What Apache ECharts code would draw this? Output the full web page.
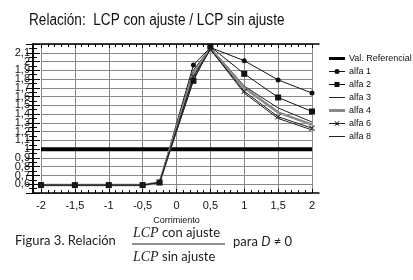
<!DOCTYPE html>
<html>
<head>
<meta charset="utf-8">
<script src="https://cdn.jsdelivr.net/npm/echarts@6/dist/echarts.min.js"></script>
<style>
  html, body { margin: 0; padding: 0; background: #fff; }
  #chart { width: 413px; height: 280px; }
</style>
</head>
<body>
<div id="chart"></div>
<script>
// datos
var xValues = [-2, -1.5, -1, -0.5, -0.25, 0.25, 0.5, 1, 1.5, 2];
var refX = [-2, 2];
var refValues = [1, 1];
var alfa1 = [0.59, 0.59, 0.59, 0.59, 0.62, 1.96, 2.16, 2.01, 1.79, 1.64];
var alfa2 = [0.59, 0.59, 0.59, 0.59, 0.62, 1.78, 2.17, 1.86, 1.59, 1.43];
var alfa3 = [0.59, 0.59, 0.59, 0.59, 0.62, 1.90, 2.16, 1.72, 1.47, 1.31];
var alfa4 = [0.59, 0.59, 0.59, 0.59, 0.62, 1.86, 2.15, 1.70, 1.42, 1.28];
var alfa6 = [0.59, 0.59, 0.59, 0.59, 0.62, 1.83, 2.14, 1.66, 1.37, 1.24];
var alfa8 = [0.59, 0.59, 0.59, 0.59, 0.62, 1.80, 2.14, 1.64, 1.35, 1.22];
var yTicks = [0.5, 0.6, 0.7, 0.8, 0.9, 1, 1.1, 1.2, 1.3, 1.4, 1.5, 1.6, 1.7, 1.8, 1.9, 2, 2.1, 2.2];
var legendNames = ['Val. Referencial', 'alfa 1', 'alfa 2', 'alfa 3', 'alfa 4', 'alfa 6', 'alfa 8'];

var sans = '"Liberation Sans", Arial, sans-serif';
var captionFont = 'Lato, "Open Sans", sans-serif';

// iconos de la leyenda (caja 16x8, los puntos sueltos fijan el tamaño)
var box = 'M0,0L0,0M16,8L16,8';
var thinLine = 'M0,3.5L16,3.5L16,4.5L0,4.5Z';
var thickLine = 'M0,2.5L16,2.5L16,5.5L0,5.5Z';
var legendIcons = {
	'Val. Referencial': 'path://' + box + thickLine,
	'alfa 1': 'path://' + box + thinLine + 'M10.5,4A2.5,2.5,0,1,1,5.5,4A2.5,2.5,0,1,1,10.5,4Z',
	'alfa 2': 'path://' + box + thinLine + 'M5.5,1.5L10.5,1.5L10.5,6.5L5.5,6.5Z',
	'alfa 3': 'path://' + box + thinLine,
	'alfa 4': 'path://' + box + thickLine,
	'alfa 6': 'path://' + box + thinLine + 'M5.5,2.1L6.1,1.5L10.5,5.9L9.9,6.5ZM9.9,1.5L10.5,2.1L6.1,6.5L5.5,5.9Z',
	'alfa 8': 'path://' + box + thinLine
};

function pairs(xs, ys) {
	var out = [];
	for (var i = 0; i < xs.length; i++) out.push([xs[i], ys[i]]);
	return out;
}
function comma(v) {
	return String(+Number(v).toFixed(2)).replace('.', ',');
}

var myChart = echarts.init(document.getElementById('chart'));
var option = {
	animation: false,
	legend: {
		orient: 'vertical',
		left: 329, top: 54, padding: 0,
		itemWidth: 16, itemHeight: 8, itemGap: 4,
		data: legendNames.map(function(n) { return { name: n, icon: legendIcons[n] }; }),
		textStyle: { fontFamily: sans, fontSize: 9, color: '#111', padding: [0, 0, 0, -1] }
	},
	grid: [
		{ left: 41, right: 101, top: 44, bottom: 87 }, // datos
		{ left: 33, right: 94, top: 44, bottom: 87 }   // marco
	],
	xAxis: [{
		type: 'value', gridIndex: 0, min: -2, max: 2, interval: 0.5,
		axisLine: { show: false },
		axisTick: { show: true, inside: true, length: 4, lineStyle: { color: '#000' } },
		minorTick: { show: true, splitNumber: 5, length: 3, lineStyle: { color: '#000' } },
		splitLine: { show: true, lineStyle: { color: '#888', width: 1 } },
		axisLabel: { formatter: comma, margin: 7, fontFamily: sans, fontSize: 11, color: '#111' },
		name: 'Corrimiento', nameLocation: 'middle', nameGap: 22,
		nameTextStyle: { fontFamily: sans, fontSize: 9, color: '#111' }
	}, {
		type: 'value', gridIndex: 0, position: 'top', min: -2, max: 2, interval: 0.5,
		axisLine: { show: false },
		axisTick: { show: true, inside: true, length: 4, lineStyle: { color: '#000' } },
		minorTick: { show: true, splitNumber: 5, length: 3, lineStyle: { color: '#000' } },
		splitLine: { show: false },
		axisLabel: { show: false }
	}, {
		type: 'value', gridIndex: 1, min: 0, max: 1,
		axisLine: { show: true, lineStyle: { color: '#000', width: 1.5 } },
		axisTick: { show: false }, axisLabel: { show: false }, splitLine: { show: false }
	}, {
		type: 'value', gridIndex: 1, position: 'top', min: 0, max: 1,
		axisLine: { show: true, lineStyle: { color: '#000', width: 1.5 } },
		axisTick: { show: false }, axisLabel: { show: false }, splitLine: { show: false }
	}],
	yAxis: [{
		type: 'value', gridIndex: 0, min: 0.5, max: 2.2, interval: 0.1,
		axisLine: { show: false }, axisTick: { show: false }, axisLabel: { show: false },
		splitLine: { show: true, lineStyle: { color: '#888', width: 1 } }
	}, {
		type: 'value', gridIndex: 1, min: 0.5, max: 2.2, interval: 0.1,
		axisLine: { show: true, lineStyle: { color: '#000', width: 1.5 } },
		axisTick: { show: true, inside: true, length: 7, lineStyle: { color: '#000' } },
		minorTick: { show: true, splitNumber: 2, length: 4, lineStyle: { color: '#000' } },
		splitLine: { show: false },
		axisLabel: {
			customValues: yTicks, formatter: comma, margin: 3,
			fontFamily: sans, fontSize: 11, color: '#111', lineHeight: 9
		}
	}, {
		type: 'value', gridIndex: 1, position: 'right', min: 0.5, max: 2.2, interval: 0.1,
		axisLine: { show: true, lineStyle: { color: '#000', width: 1.5 } },
		axisTick: { show: true, inside: true, length: 7, lineStyle: { color: '#000' } },
		minorTick: { show: true, splitNumber: 2, length: 4, lineStyle: { color: '#000' } },
		splitLine: { show: false }, axisLabel: { show: false }
	}],
	series: [{
		name: 'Val. Referencial', type: 'line', xAxisIndex: 0, yAxisIndex: 0,
		symbol: 'none', data: pairs(refX, refValues),
		lineStyle: { color: '#000', width: 4 }, itemStyle: { color: '#000' }, z: 3
	}, {
		name: 'alfa 1', type: 'line', xAxisIndex: 0, yAxisIndex: 0,
		symbol: 'circle', symbolSize: 5, data: pairs(xValues, alfa1),
		lineStyle: { color: '#111', width: 1 }, itemStyle: { color: '#111' }
	}, {
		name: 'alfa 2', type: 'line', xAxisIndex: 0, yAxisIndex: 0,
		symbol: 'rect', symbolSize: 6, data: pairs(xValues, alfa2),
		lineStyle: { color: '#111', width: 1 }, itemStyle: { color: '#111' }
	}, {
		name: 'alfa 3', type: 'line', xAxisIndex: 0, yAxisIndex: 0,
		symbol: 'none', data: pairs(xValues, alfa3),
		lineStyle: { color: '#222', width: 1 }, itemStyle: { color: '#222' }
	}, {
		name: 'alfa 4', type: 'line', xAxisIndex: 0, yAxisIndex: 0,
		symbol: 'none', data: pairs(xValues, alfa4),
		lineStyle: { color: '#8a8a8a', width: 2.5 }, itemStyle: { color: '#8a8a8a' }
	}, {
		name: 'alfa 6', type: 'line', xAxisIndex: 0, yAxisIndex: 0,
		symbol: 'path://M0,1L1,0L5,4L9,0L10,1L6,5L10,9L9,10L5,6L1,10L0,9L4,5Z', symbolSize: 6,
		data: pairs(xValues, alfa6),
		lineStyle: { color: '#222', width: 1 }, itemStyle: { color: '#222' }
	}, {
		name: 'alfa 8', type: 'line', xAxisIndex: 0, yAxisIndex: 0,
		symbol: 'none', data: pairs(xValues, alfa8),
		lineStyle: { color: '#222', width: 1 }, itemStyle: { color: '#222' }
	}],
	graphic: [{
		// titulo, comprimido a lo ancho como en el original
		type: 'text', x: 29, y: 13, scaleX: 0.85,
		style: { text: 'Relación:  LCP con ajuste / LCP sin ajuste', font: '16px ' + sans, fill: '#111' }
	}, {
		type: 'text', left: 15, top: 234,
		style: { text: 'Figura 3. Relación', fontFamily: captionFont, fontSize: 13, fill: '#222' }
	}, {
		type: 'text', left: 133, top: 226,
		style: {
			text: '{i|LCP} con ajuste', fontFamily: captionFont, fontSize: 13, fill: '#222',
			rich: { i: { fontFamily: '"Liberation Serif", serif', fontStyle: 'italic', fontSize: 14, fill: '#222' } }
		}
	}, {
		type: 'text', left: 133, top: 250,
		style: {
			text: '{i|LCP} sin ajuste', fontFamily: captionFont, fontSize: 13, fill: '#222',
			rich: { i: { fontFamily: '"Liberation Serif", serif', fontStyle: 'italic', fontSize: 14, fill: '#222' } }
		}
	}, {
		type: 'line', shape: { x1: 132, y1: 244, x2: 225, y2: 244 },
		style: { stroke: '#222', lineWidth: 1 }
	}, {
		type: 'text', left: 233, top: 235,
		style: {
			text: 'para {i|D} ≠ 0', fontFamily: captionFont, fontSize: 13, fill: '#222',
			rich: { i: { fontFamily: captionFont, fontStyle: 'italic', fontSize: 13, fill: '#222' } }
		}
	}]
};
myChart.setOption(option);
</script>
</body>
</html>
